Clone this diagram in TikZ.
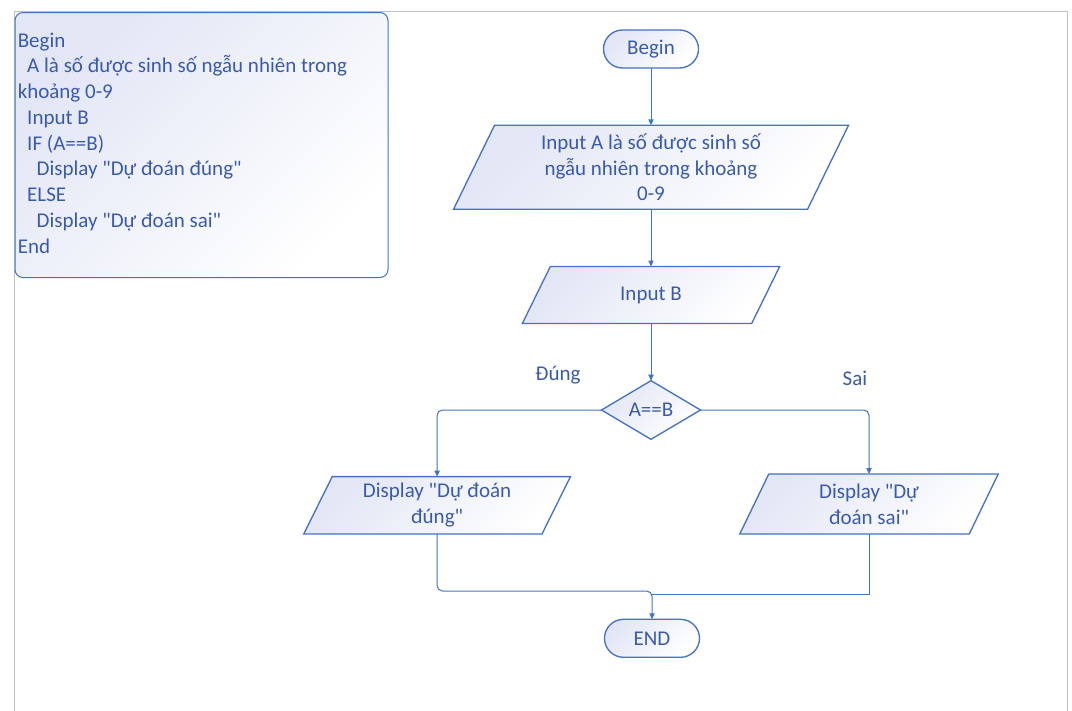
\documentclass[tikz,border=0pt]{standalone}
\usepackage{fontspec}
\setmainfont{Carlito}
\usetikzlibrary{shapes.geometric,arrows.meta,calc,backgrounds}
\definecolor{ln}{RGB}{68,114,196}
\definecolor{tx}{RGB}{58,90,170}
\definecolor{fl}{RGB}{226,230,245}
\definecolor{pg}{RGB}{191,191,191}
\newcommand{\qq}{\textquotedbl}
\begin{document}
\begin{tikzpicture}[x=0.75pt,y=-0.75pt,
  font=\fontsize{15.75}{19.3}\selectfont,
  every node/.style={text=tx},
  grad/.style={top color=fl, bottom color=white, shading angle=45},
  term/.style={draw=ln, line width=1pt, grad, rounded corners=14.25pt, minimum width=71.25pt, minimum height=28.5pt, inner sep=0pt, outer sep=0pt},
  para/.style={inner sep=0pt, outer sep=0pt, align=center},
  dec/.style={diamond, draw=ln, line width=1pt, grad, minimum width=74.25pt, minimum height=44pt, inner sep=0pt, outer sep=0pt},
  parashape/.style={draw=ln, line width=1pt, grad},
  conn/.style={draw=ln, line width=0.75pt},
  arr/.style={conn, -{Triangle[length=4.5pt,width=4pt]}},
]
\useasboundingbox (0,0) rectangle (1072,711);
\draw[pg, line width=0.75pt] (14.5,711) -- (14.5,11.5) -- (1067.5,11.5) -- (1067.5,711);

\node[draw=ln, line width=0.75pt, grad, rounded corners=6pt, anchor=north west,
  minimum width=279.75pt, minimum height=198.75pt, inner sep=0pt] (codebox) at (14.5,12) {};
\node[anchor=west, align=left, inner sep=0pt] (code) at (17.5,143)
  {Begin\\
   \hspace*{7.1pt}A là số được sinh số ngẫu nhiên trong\\
   khoảng 0-9\\
   \hspace*{7.1pt}Input B\\
   \hspace*{7.1pt}IF (A==B)\\
   \hspace*{14.2pt}Display \qq Dự đoán đúng\qq\\
   \hspace*{7.1pt}ELSE\\
   \hspace*{14.2pt}Display \qq Dự đoán sai\qq\\
   End};

\node[term] (begin) at (651,49) {Begin};
\node[para, minimum width=265.5pt, minimum height=63pt] (p1) at (651,167.3)
  {Input A là số được sinh số\\ngẫu nhiên trong khoảng\\0-9};
\node[para, minimum width=172pt, minimum height=42.75pt] (p2) at (651,295) {Input B};
\node[dec] (dec) at (651,410) {A==B};
\node[para, minimum width=178.7pt, minimum height=43pt] (lp) at (437.1,505.3)
  {Display \qq Dự đoán\\đúng\qq};
\node[para, minimum width=172.1pt, minimum height=45pt] (rp) at (869,504)
  {Display \qq Dự\\đoán sai\qq};
\node[term] (end) at (652,638.3) {END};
\node (dung) at (558,375) {Đúng};
\node (sai) at (855,378) {Sai};

\begin{scope}[on background layer]
  \foreach \n/\s in {p1/41,p2/28,lp/28.4,rp/29} {
    \path[parashape] ($(\n.north west)+(\s/2,0)$) -- ($(\n.north east)+(\s/2,0)$)
      -- ($(\n.south east)-(\s/2,0)$) -- ($(\n.south west)-(\s/2,0)$) -- cycle;
  }
\end{scope}

\draw[arr] (begin.south) -- (p1.north);
\draw[arr] (p1.south) -- (p2.north);
\draw[arr] (p2.south) -- (dec.north);
\draw[arr, rounded corners=4pt] (dec.west) -| (lp.north);
\draw[arr, rounded corners=4pt] (dec.east) -| (rp.north);
\coordinate (mj) at (652,591);
\coordinate (mj2) at (652,594);
\draw[arr, rounded corners=4pt] (lp.south) |- (mj) -- (end.north);
\draw[conn] (rp.south) |- (mj2);
\end{tikzpicture}
\end{document}
